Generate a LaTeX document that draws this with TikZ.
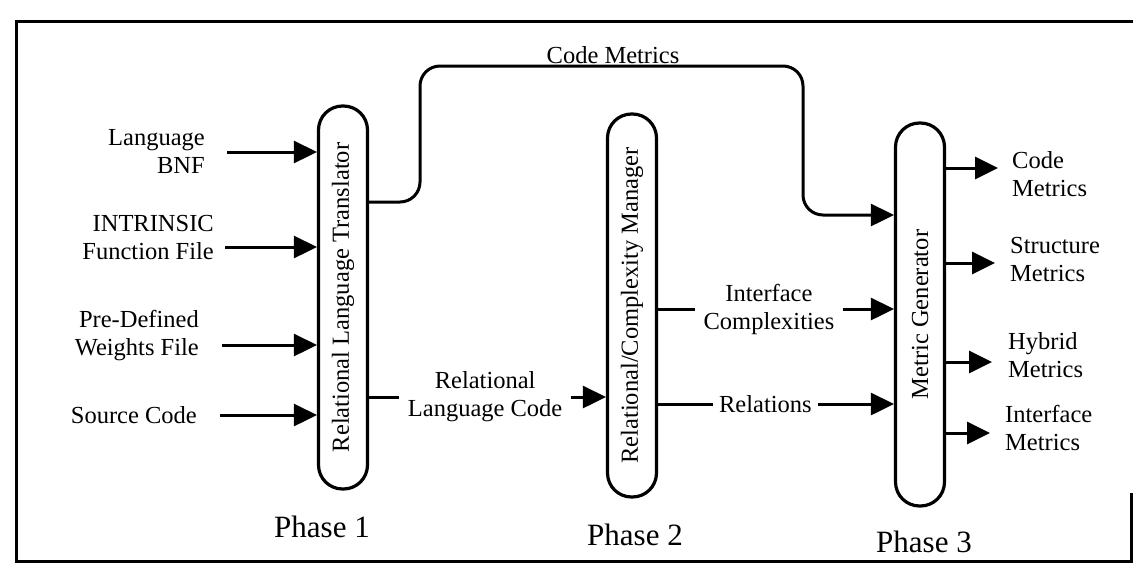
\documentclass[tikz,border=0pt]{standalone}
\usepackage{fontspec}
\setmainfont{Liberation Serif}
\usetikzlibrary{arrows.meta}
\begin{document}
\begin{tikzpicture}[x=1pt,y=-1pt,
  conn/.style={line width=3pt},
  arr/.style={line width=3pt,-{Triangle[length=23pt,width=22pt]}},
  proc/.style={draw,line width=3.2pt,rounded corners=24pt,minimum width=49pt,minimum height=383pt,inner sep=0pt,font=\fontsize{24.5}{28}\selectfont},
  lbl/.style={inner sep=0pt,font=\fontsize{24.5}{28}\selectfont},
  phase/.style={inner sep=0pt,font=\fontsize{31}{36}\selectfont}]
\useasboundingbox (0,0) rectangle (1133,581);
% frame
\draw[conn] (1133,21) -- (16,21) -- (16,561) -- (1131,561) -- (1131,493);
% process boxes
\node[proc] (b1) at (343,297.5) {\rotatebox{90}{Relational Language Translator}};
\node[proc] (b2) at (632,305.5) {\rotatebox{90}{Relational/Complexity Manager}};
\node[proc] (b3) at (920,314.5) {\rotatebox{90}{Metric Generator}};
% input labels
\node[lbl,align=right,anchor=east] (lang) at (205,151.5) {Language\\BNF};
\node[lbl,align=right,anchor=east] (intr) at (214,237.5) {INTRINSIC\\Function File};
\node[lbl,align=right,anchor=east] (pre) at (199,336) {Pre-Defined\\Weights File};
\node[lbl,anchor=east] (src) at (197,415) {Source Code};
\coordinate (sLang) at (227,152);
\coordinate (sIntr) at (225,247);
\coordinate (sPre) at (222,345);
\coordinate (sSrc) at (220,415);
\draw[arr] (sLang) -- (b1.west |- sLang);
\draw[arr] (sIntr) -- (b1.west |- sIntr);
\draw[arr] (sPre) -- (b1.west |- sPre);
\draw[arr] (sSrc) -- (b1.west |- sSrc);
% code metrics loop
\coordinate (cmA) at (420,66);
\coordinate (cmB) at (803,66);
\coordinate (yCMi) at (0,202);
\coordinate (yCMo) at (0,215);
\draw[arr,rounded corners=20pt] (b1.east |- yCMi) -| (cmA) -- (cmB) |- (b3.west |- yCMo);
\node[lbl,anchor=base] (cml) at (613,63) {Code Metrics};
% relational language code
\coordinate (yRLC) at (0,397);
\draw[arr] (b1.east |- yRLC) -- node[lbl,align=center,fill=white,inner xsep=9pt,pos=0.49] (rlc) {Relational\\Language Code} (b2.west |- yRLC);
% interface complexities
\coordinate (yIC) at (0,309);
\draw[arr] (b2.east |- yIC) -- node[lbl,align=center,fill=white,inner xsep=9pt,pos=0.47] (ic) {Interface\\Complexities} (b3.west |- yIC);
% relations
\coordinate (yRel) at (0,404);
\draw[arr] (b2.east |- yRel) -- node[lbl,fill=white,inner xsep=6pt,pos=0.455] (rel) {Relations} (b3.west |- yRel);
% outputs
\coordinate (o1) at (998,168);
\coordinate (o2) at (995,263);
\coordinate (o3) at (992,362);
\coordinate (o4) at (990,433);
\draw[arr] (b3.east |- o1) -- (o1);
\draw[arr] (b3.east |- o2) -- (o2);
\draw[arr] (b3.east |- o3) -- (o3);
\draw[arr] (b3.east |- o4) -- (o4);
\node[lbl,align=left,anchor=west] (ocm) at (1012,174) {Code\\Metrics};
\node[lbl,align=left,anchor=west] (osm) at (1010,260) {Structure\\Metrics};
\node[lbl,align=left,anchor=west] (ohm) at (1008,355.5) {Hybrid\\Metrics};
\node[lbl,align=left,anchor=west] (oim) at (1005,427.5) {Interface\\Metrics};
% phases
\node[phase,anchor=base] (p1) at (322,537) {Phase 1};
\node[phase,anchor=base] (p2) at (635,545) {Phase 2};
\node[phase,anchor=base] (p3) at (924,552) {Phase 3};
\end{tikzpicture}
\end{document}
